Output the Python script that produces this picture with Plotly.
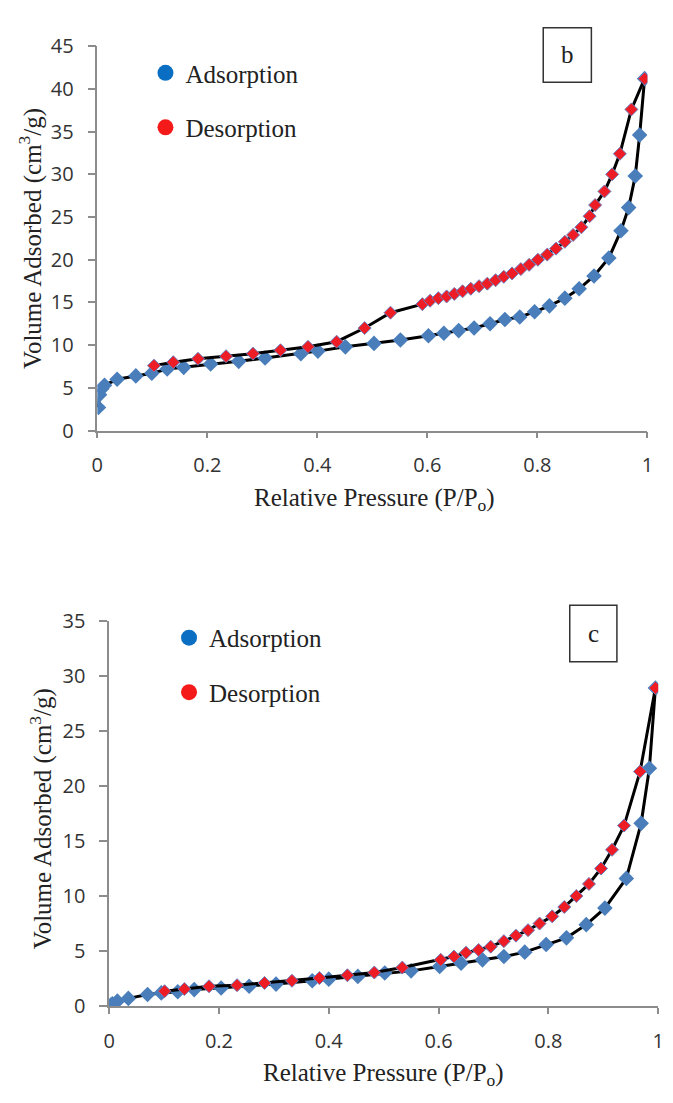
import plotly.graph_objects as go

W, H = 673, 1103

# ---------------- data: panel b ----------------
ads_b_x = [0.002, 0.004, 0.008, 0.013, 0.036, 0.070, 0.099, 0.127, 0.157, 0.206, 0.257, 0.305,
           0.370, 0.401, 0.451, 0.503, 0.551, 0.602, 0.630, 0.657, 0.685, 0.714, 0.741, 0.768,
           0.795, 0.822, 0.850, 0.876, 0.903, 0.930, 0.952, 0.966, 0.978, 0.986, 0.995]
ads_b_y = [2.7, 4.2, 4.9, 5.3, 6.0, 6.4, 6.7, 7.2, 7.4, 7.8, 8.1, 8.5,
           9.0, 9.3, 9.8, 10.2, 10.6, 11.1, 11.4, 11.7, 12.0, 12.5, 13.0, 13.3,
           13.9, 14.6, 15.5, 16.6, 18.1, 20.2, 23.4, 26.1, 29.8, 34.6, 41.2]
des_b_x = [0.103, 0.138, 0.183, 0.234, 0.283, 0.333, 0.383, 0.435, 0.486, 0.533, 0.591, 0.605,
           0.620, 0.635, 0.649, 0.664, 0.679, 0.694, 0.709, 0.724, 0.739, 0.754, 0.770, 0.785,
           0.801, 0.818, 0.834, 0.850, 0.865, 0.880, 0.895, 0.905, 0.922, 0.936, 0.950, 0.971, 0.995]
des_b_y = [7.6, 8.0, 8.4, 8.7, 9.0, 9.4, 9.8, 10.4, 12.0, 13.8, 14.8, 15.2,
           15.5, 15.7, 16.0, 16.3, 16.6, 16.9, 17.2, 17.6, 18.0, 18.4, 18.9, 19.4,
           20.0, 20.6, 21.3, 22.1, 22.9, 23.8, 25.1, 26.4, 28.0, 30.0, 32.4, 37.6, 41.2]

# ---------------- data: panel c ----------------
ads_c_x = [0.003, 0.006, 0.015, 0.035, 0.070, 0.095, 0.125, 0.155, 0.204, 0.255, 0.304, 0.370,
           0.400, 0.453, 0.502, 0.550, 0.602, 0.641, 0.680, 0.719, 0.757, 0.796, 0.833, 0.869,
           0.903, 0.942, 0.969, 0.984, 0.995]
ads_c_y = [0.1, 0.2, 0.45, 0.7, 1.05, 1.2, 1.3, 1.5, 1.65, 1.8, 2.0, 2.3,
           2.45, 2.7, 3.0, 3.2, 3.6, 3.9, 4.2, 4.5, 4.9, 5.6, 6.2, 7.4,
           8.9, 11.6, 16.6, 21.6, 28.9]
des_c_x = [0.101, 0.137, 0.182, 0.233, 0.283, 0.333, 0.383, 0.434, 0.483, 0.534, 0.604, 0.628,
           0.650, 0.673, 0.695, 0.719, 0.741, 0.763, 0.784, 0.807, 0.829, 0.851, 0.874, 0.896,
           0.916, 0.938, 0.967, 0.995]
des_c_y = [1.35, 1.55, 1.8, 1.9, 2.1, 2.3, 2.55, 2.8, 3.05, 3.5, 4.2, 4.5,
           4.85, 5.1, 5.4, 5.9, 6.4, 6.9, 7.5, 8.15, 9.0, 10.0, 11.1, 12.5,
           14.2, 16.4, 21.3, 28.9]

x_title = "Relative Pressure (P/P<sub>o</sub>)"
y_title = "Volume Adsorbed (cm<sup>3</sup>/g)"
series_names = ["Adsorption", "Desorption"]
panel_labels = ["b", "c"]

ADS_C = "#4a7ebb"
DES_C = "#ee1c25"
LEG_ADS = "#0a6fc2"
LEG_DES = "#f51a1a"
SERIF = "Liberation Serif"
TICKF = dict(family="Open Sans", size=20, color="#333333")
SERIF_SIZE = 25

fig = go.Figure()


def add_panel(ax, ay, xa, ya, xd, yd, leg):
    fig.add_trace(go.Scatter(x=xa, y=ya, mode="lines+markers", xaxis=ax, yaxis=ay,
                             line=dict(color="black", width=3),
                             marker=dict(symbol="diamond", size=12, color=ADS_C,
                                         line=dict(width=0)),
                             showlegend=False))
    fig.add_trace(go.Scatter(x=xd, y=yd, mode="lines+markers", xaxis=ax, yaxis=ay,
                             line=dict(color="black", width=3),
                             marker=dict(symbol="diamond", size=10, color=DES_C,
                                         line=dict(width=1, color="#6a7fc0")),
                             showlegend=False))
    for i, (nm, col) in enumerate(zip(series_names, [LEG_ADS, LEG_DES])):
        fig.add_trace(go.Scatter(x=[None], y=[None], mode="markers", xaxis=ax, yaxis=ay,
                                 name=nm, legend=leg, legendgroup=leg + str(i),
                                 marker=dict(symbol="circle", size=16, color=col)))


add_panel("x", "y", ads_b_x, ads_b_y, des_b_x, des_b_y, "legend")
add_panel("x2", "y2", ads_c_x, ads_c_y, des_c_x, des_c_y, "legend2")


def px_x(v):
    return v / W


def px_y(v):
    return 1 - v / H


axis_common = dict(showgrid=False, zeroline=False, showline=True, linecolor="#8c8c8c",
                   linewidth=1.5, ticks="outside", tickcolor="#8c8c8c", tickwidth=1.5,
                   tickfont=TICKF)

legend_font = dict(family=SERIF, size=SERIF_SIZE, color="#222222")
layout = dict(
    width=W, height=H, margin=dict(l=0, r=0, t=0, b=0),
    paper_bgcolor="white", plot_bgcolor="white",
    xaxis=dict(domain=[px_x(93), px_x(653)], range=[0, 1], dtick=0.2, anchor="y",
               ticklen=6, ticklabelstandoff=10, **axis_common),
    yaxis=dict(domain=[px_y(427), px_y(33)], range=[0, 45], dtick=5, anchor="x",
               ticklen=8, ticklabelstandoff=10, **axis_common),
    xaxis2=dict(domain=[px_x(105), px_x(664)], range=[0, 1], dtick=0.2, anchor="y2",
                ticklen=6, ticklabelstandoff=10, **axis_common),
    yaxis2=dict(domain=[px_y(1017), px_y(622)], range=[0, 35], dtick=5, anchor="x2",
                ticklen=8, ticklabelstandoff=10, **axis_common),
    legend=dict(x=px_x(142), y=px_y(37), xanchor="left", yanchor="top",
                font=legend_font, tracegroupgap=19, bgcolor="rgba(0,0,0,0)"),
    legend2=dict(x=px_x(166), y=px_y(616), xanchor="left", yanchor="top",
                 font=legend_font, tracegroupgap=19, bgcolor="rgba(0,0,0,0)"),
)
fig.update_layout(**layout)

# axis titles
titles = [
    (375, 498, x_title, 0),
    (25, 230, y_title, -90),
    (384, 1087, x_title, 0),
    (36, 825, y_title, -90),
]
for cx, cy, txt, ang in titles:
    fig.add_annotation(x=px_x(cx), y=px_y(cy), xref="paper", yref="paper", text=txt,
                       showarrow=False, textangle=ang, xanchor="center", yanchor="middle",
                       font=dict(family=SERIF, size=SERIF_SIZE, color="#222222"))

# panel label boxes
boxes = [(547, 14, 596, 70), (574, 606, 622, 664)]
for (x0, y0, x1, y1), lab in zip(boxes, panel_labels):
    fig.add_shape(type="rect", xref="paper", yref="paper",
                  x0=px_x(x0), x1=px_x(x1), y0=px_y(y1), y1=px_y(y0),
                  line=dict(color="#333333", width=1.5), fillcolor="white")
    fig.add_annotation(x=px_x((x0 + x1) / 2), y=px_y((y0 + y1) / 2), xref="paper", yref="paper",
                       text=lab, showarrow=False, xanchor="center", yanchor="middle",
                       font=dict(family=SERIF, size=SERIF_SIZE, color="#222222"))

fig.write_html("out.html",
               post_script="document.body.style.margin='0';document.body.style.padding='0';")
